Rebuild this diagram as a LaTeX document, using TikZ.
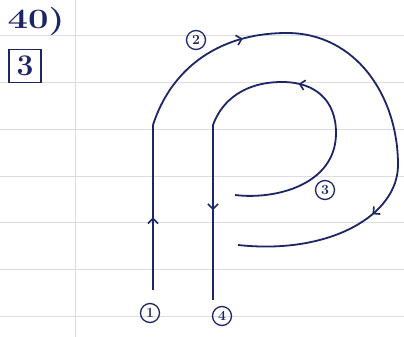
\documentclass[tikz,border=0pt]{standalone}
\usetikzlibrary{arrows.meta,decorations.markings}
\definecolor{ink}{HTML}{1C2666}
\definecolor{rulec}{HTML}{DADDE4}
\begin{document}
\begin{tikzpicture}[x=1pt,y=-1pt,
  inkline/.style={draw=ink,line width=1.8pt},
  circ/.style={draw=ink,circle,line width=1.3pt,inner sep=0.5pt,text=ink,font=\fontsize{14}{14}\selectfont\bfseries,minimum size=19pt},
  barb/.style={postaction={decorate},decoration={markings,mark=at position #1 with {\arrow{Straight Barb[length=5pt,width=10pt,line width=1.6pt]}}}},
  barbtwo/.style 2 args={postaction={decorate},decoration={markings,
     mark=at position #1 with {\arrow{Straight Barb[length=5pt,width=10pt,line width=1.6pt]}},
     mark=at position #2 with {\arrow{Straight Barb[length=5pt,width=10pt,line width=1.6pt]}}}}]
\useasboundingbox (0,0) rectangle (404,337);
\fill[white] (0,0) rectangle (404,337);
\foreach \y in {35,82,129,176,222,269,316} \draw[rulec,line width=0.8pt] (0,\y) -- (404,\y);
\draw[rulec,line width=0.6pt] (75,0) -- (75,337);

% labels
\node[text=ink,font=\fontsize{28}{28}\selectfont\bfseries] (q) at (36,22) {\scalebox{1.3}[1]{40)}};
\node[draw=ink,line width=1.6pt,text=ink,minimum width=32pt,minimum height=33pt,inner sep=0pt,font=\fontsize{30}{30}\selectfont\bfseries] (bx) at (25,66) {3};
\node[circ] (n1) at (150,313) {1};
\node[circ] (n2) at (196,40) {2};
\node[circ] (n3) at (325,190) {3};
\node[circ] (n4) at (222,316) {4};

% key points
\coordinate (a1) at (153,290);
\coordinate (c1) at (153,125);
\coordinate (o1) at (238,245);
\coordinate (i0) at (235,195);
\coordinate (c2) at (213,125);
\coordinate (b2) at (213,300);

% path 1 (up)
\draw[inkline,barb=0.44] (a1) -- (c1);
% outer loop 2
\draw[inkline,barbtwo={0.23}{0.75}] (c1) .. controls (170,72) and (215,33) .. (287,33)
   .. controls (355,33) and (398,95) .. (398,165)
   .. controls (398,215) and (330,255) .. (o1);
% inner loop 3
\draw[inkline,barb=0.66] (i0) .. controls (275,200) and (336,185) .. (336,133)
   .. controls (336,100) and (315,82) .. (282,82)
   .. controls (245,82) and (222,100) .. (c2);
% path 4 (down)
\draw[inkline,barb=0.486] (c2) -- (b2);
\end{tikzpicture}
\end{document}
